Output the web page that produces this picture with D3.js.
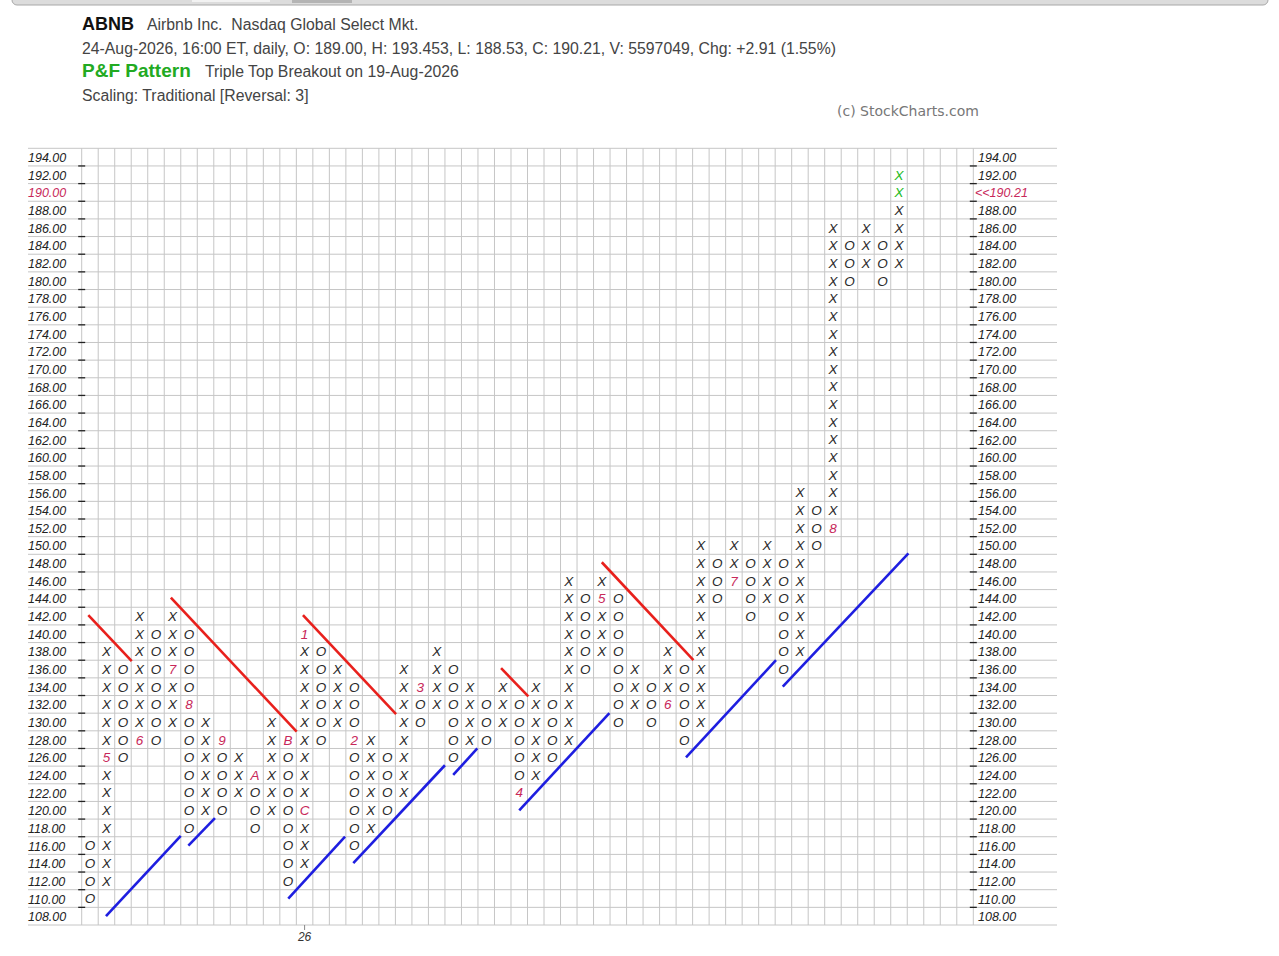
<!DOCTYPE html>
<html>
<head>
<meta charset="utf-8">
<script src="https://cdn.jsdelivr.net/npm/d3@7"></script>
<style>
  body { margin: 0; background: #fff; }
  svg text { font-family: "Liberation Sans", Arial, sans-serif; }
</style>
</head>
<body>
<div id="chart"></div>
<script>
// Point & Figure columns (box 2.00, reversal 3), read left to right
const colTypes = ["O","X","O","X","O","X","O","X","O","X","O","X","O","X","O","X","O","X","O","X",
                  "O","X","O","X","O","X","O","X","O","X","O","X","O","X","O","X","O","X","O","X",
                  "O","X","O","X","O","X","O","X","O","X"];
const colLows  = [110,112,126,128,128,130,118,120,120,122,118,120,112,114,128,130,116,118,120,122,
                  130,132,126,128,128,130,122,124,126,128,136,138,130,132,130,132,128,130,144,146,
                  142,144,136,138,150,152,180,182,180,182];
const colHighs = [116,138,136,142,140,142,140,130,128,126,124,130,128,140,138,136,134,128,126,136,
                  134,138,136,134,132,134,132,134,132,146,144,146,144,136,134,138,136,150,148,150,
                  148,150,148,156,154,186,184,186,184,192];

// month markers that take the place of a box
const markerCols   = [1,3,5,6,8,10,12,13,13,16,20,26,31,35,39,45];
const markerPrices = [126,128,136,132,128,124,128,120,140,128,134,122,144,132,146,152];
const markerLabels = ["5","6","7","8","9","A","B","C","1","2","3","4","5","6","7","8"];

// boxes added on the last session (green)
const newCols   = [49,49];
const newPrices = [190,192];

// price labels of the axes
const priceTicks = [194,192,190,188,186,184,182,180,178,176,174,172,170,168,166,164,162,160,158,156,
                    154,152,150,148,146,144,142,140,138,136,134,132,130,128,126,124,122,120,118,116,
                    114,112,110,108];
const lastClose = 190.21;

// year marks under the grid
const yearCols   = [13];
const yearLabels = ["26"];

// trend lines: [start column, start price, end column, end price]
const redLines = [
  [0.4, 142.1, 3.03, 136.9],
  [5.4, 144.1, 13.02, 128.9],
  [13.4, 142.1, 19.04, 130.9],
  [25.4, 136.1, 27.05, 132.9],
  [31.5, 148.1, 37.05, 137.0]
];
const blueLines = [
  [1.47, 108.0, 6.0, 117.1],
  [6.46, 116.0, 8.07, 119.1],
  [12.51, 110.0, 15.95, 117.0],
  [16.45, 114.0, 22.0, 125.1],
  [22.5, 124.0, 23.96, 127.0],
  [26.5, 120.0, 31.96, 131.0],
  [36.6, 126.0, 42.05, 137.0],
  [42.46, 134.0, 50.07, 149.1]
];

const width = 1279;
const height = 956;
const nCols = 54;
const grid = { left: 81.7, right: 973.3, top: 148.3, bottom: 925, lineLeft: 28, lineRight: 1057 };

const svg = d3.select("#chart")
  .append("svg")
  .attr("width", width)
  .attr("height", height)
  .attr("viewBox", [0, 0, width, height]);

// scales: column index -> x, price -> y (each box is 2.00)
const x = d3.scaleLinear().domain([0, nCols]).range([grid.left, grid.right]);
const y = d3.scaleLinear().domain([107, 195]).range([grid.bottom, grid.top]);

// browser strip at the very top
svg.append("rect").attr("x", 12).attr("y", -6).attr("width", 1256).attr("height", 11)
  .attr("rx", 5).attr("fill", "#dcdcdc").attr("stroke", "#a8a8a8");
svg.append("rect").attr("x", 192).attr("y", -2).attr("width", 78).attr("height", 4).attr("fill", "#f2f2f2");
svg.append("rect").attr("x", 292).attr("y", -2).attr("width", 60).attr("height", 5).attr("fill", "#b4b4b4");

// header
const head = svg.append("g").attr("fill", "#444").style("font-size", "15.8px");
head.append("text").attr("x", 82).attr("y", 30).attr("fill", "#111")
  .style("font-size", "18px").style("font-weight", "bold").text("ABNB");
head.append("text").attr("x", 147).attr("y", 30).text("Airbnb Inc.  Nasdaq Global Select Mkt.")
  .attr("xml:space", "preserve");
head.append("text").attr("x", 82).attr("y", 54)
  .text("24-Aug-2026, 16:00 ET, daily, O: 189.00, H: 193.453, L: 188.53, C: 190.21, V: 5597049, Chg: +2.91 (1.55%)");
head.append("text").attr("x", 82).attr("y", 77).attr("fill", "#22aa22")
  .style("font-size", "19px").style("font-weight", "bold").text("P&F Pattern");
head.append("text").attr("x", 205).attr("y", 77).text("Triple Top Breakout on 19-Aug-2026");
head.append("text").attr("x", 82).attr("y", 101).text("Scaling: Traditional [Reversal: 3]");
svg.append("text").attr("x", 837).attr("y", 116).attr("fill", "#777")
  .style("font-family", "'DejaVu Sans', sans-serif").style("font-size", "14px")
  .text("(c) StockCharts.com");

// grid
const gridG = svg.append("g").attr("stroke", "#c6c6c6").attr("stroke-width", 1);
gridG.selectAll("line.h")
  .data(d3.range(priceTicks.length + 1))
  .join("line")
  .attr("class", "h")
  .attr("x1", grid.lineLeft).attr("x2", grid.lineRight)
  .attr("y1", i => y(195 - i * 2)).attr("y2", i => y(195 - i * 2));
gridG.selectAll("line.v")
  .data(d3.range(nCols + 1))
  .join("line")
  .attr("class", "v")
  .attr("x1", i => x(i)).attr("x2", i => x(i))
  .attr("y1", grid.top).attr("y2", grid.bottom);

// tick dashes on both sides (between labels)
const dashes = priceTicks.slice(1).map(p => p + 1);
svg.append("g").attr("stroke", "#222").attr("stroke-width", 1.3)
  .selectAll("line")
  .data(dashes.flatMap(p => [[grid.left, p], [grid.right, p]]))
  .join("line")
  .attr("x1", d => d[0] - 3.5).attr("x2", d => d[0] + 3.5)
  .attr("y1", d => y(d[1])).attr("y2", d => y(d[1]));

// price labels
const closeRow = Math.floor(lastClose / 2) * 2;
const labelG = svg.append("g").style("font-size", "12.5px").style("font-style", "italic");
labelG.selectAll("text.l")
  .data(priceTicks)
  .join("text")
  .attr("class", "l")
  .attr("x", 28)
  .attr("y", d => y(d))
  .attr("dy", "0.4em")
  .attr("fill", d => d === closeRow ? "#c8285a" : "#222")
  .text(d => d.toFixed(2));
labelG.selectAll("text.r")
  .data(priceTicks)
  .join("text")
  .attr("class", "r")
  .attr("x", d => d === closeRow ? 975 : 978)
  .attr("y", d => y(d))
  .attr("dy", "0.4em")
  .attr("fill", d => d === closeRow ? "#c8285a" : "#222")
  .text(d => d === closeRow ? "<<" + lastClose.toFixed(2) : d.toFixed(2));

// year labels under the grid
svg.append("g").selectAll("line")
  .data(yearCols)
  .join("line")
  .attr("x1", c => x(c + 0.5)).attr("x2", c => x(c + 0.5))
  .attr("y1", grid.bottom).attr("y2", grid.bottom + 5)
  .attr("stroke", "#888");
svg.append("g").style("font-size", "12px").style("font-style", "italic").attr("fill", "#333")
  .selectAll("text")
  .data(yearCols)
  .join("text")
  .attr("x", c => x(c + 0.5))
  .attr("y", grid.bottom + 16)
  .attr("text-anchor", "middle")
  .text((c, i) => yearLabels[i]);

// boxes: one X or O per 2.00 from low to high of each column
const boxes = colTypes.flatMap((t, c) =>
  d3.range(colLows[c], colHighs[c] + 1, 2).map(p => {
    const m = markerCols.findIndex((mc, k) => mc === c && markerPrices[k] === p);
    const n = newCols.findIndex((nc, k) => nc === c && newPrices[k] === p);
    return {
      col: c,
      price: p,
      label: m >= 0 ? markerLabels[m] : t,
      color: m >= 0 ? "#c8285a" : (n >= 0 ? "#22bb22" : "#2a2a2a")
    };
  })
);

svg.append("g")
  .style("font-size", "13.5px")
  .style("font-style", "italic")
  .attr("text-anchor", "middle")
  .selectAll("text")
  .data(boxes)
  .join("text")
  .attr("x", d => x(d.col + 0.5))
  .attr("y", d => y(d.price))
  .attr("dy", "0.36em")
  .attr("fill", d => d.color)
  .text(d => d.label);

// trend lines
const drawLines = (lines, color) =>
  svg.append("g")
    .attr("stroke", color)
    .attr("stroke-width", 2.6)
    .selectAll("line")
    .data(lines)
    .join("line")
    .attr("x1", d => x(d[0])).attr("y1", d => y(d[1]))
    .attr("x2", d => x(d[2])).attr("y2", d => y(d[3]));
drawLines(redLines, "#e8201c");
drawLines(blueLines, "#1e1ee0");
</script>
</body>
</html>
